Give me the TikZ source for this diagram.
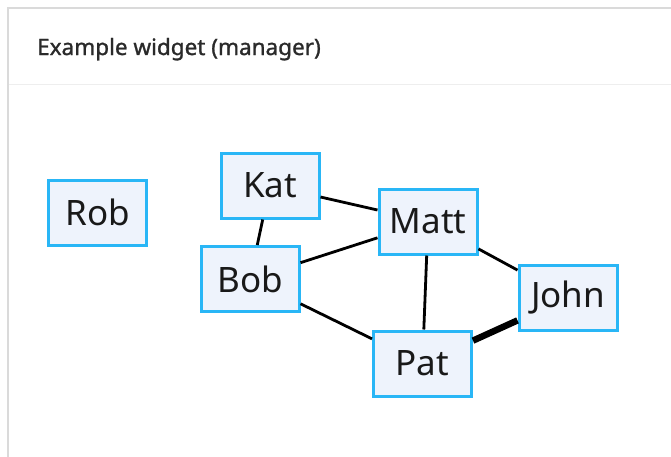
\documentclass[tikz,border=0pt]{standalone}
\usepackage{fontspec}
\setmainfont{Noto Sans}
\newfontfamily\headfont[FakeBold=1.2]{Noto Sans}
\definecolor{cardline}{HTML}{DADADA}
\definecolor{sepline}{HTML}{EEEEEE}
\definecolor{boxline}{HTML}{29B6F6}
\definecolor{boxfill}{HTML}{EEF3FC}
\definecolor{headtext}{HTML}{2A2A2A}
\tikzset{
  person/.style={draw=boxline, fill=boxfill, line width=3pt, minimum width=98pt, minimum height=65pt, inner sep=0pt, font=\fontsize{35}{38}\selectfont, text=black!90},
  link/.style={line width=2.8pt, black},
  strong/.style={line width=6.5pt, black}
}
\begin{document}
\begin{tikzpicture}[x=1pt,y=-1pt]
\useasboundingbox (0,0) rectangle (671,456);
\fill[white] (0,0) rectangle (671,456);
\draw[cardline, line width=2pt] (8,470) -- (8,8) -- (690,8);
\draw[sepline, line width=1.5pt] (9,84.5) -- (671,84.5);
\node[anchor=base west, inner sep=0pt, text=headtext, font=\headfont\fontsize{22.5}{26}\selectfont] (title) at (37,55) {Example widget (manager)};
\node[person] (rob) at (97.5,212.5) {Rob};
\node[person] (kat) at (270,185.5) {Kat};
\node[person] (matt) at (428,221.5) {Matt};
\node[person] (bob) at (250,279) {Bob};
\node[person] (john) at (568,297.5) {John};
\node[person] (pat) at (422.5,363.5) {Pat};
\draw[link] (kat) -- (matt);
\draw[link] (kat) -- (bob);
\draw[link] (bob) -- (matt);
\draw[link] (bob) -- (pat);
\draw[link] (matt) -- (pat);
\draw[link] (matt) -- (john);
\draw[strong] (john) -- (pat);
\end{tikzpicture}
\end{document}
